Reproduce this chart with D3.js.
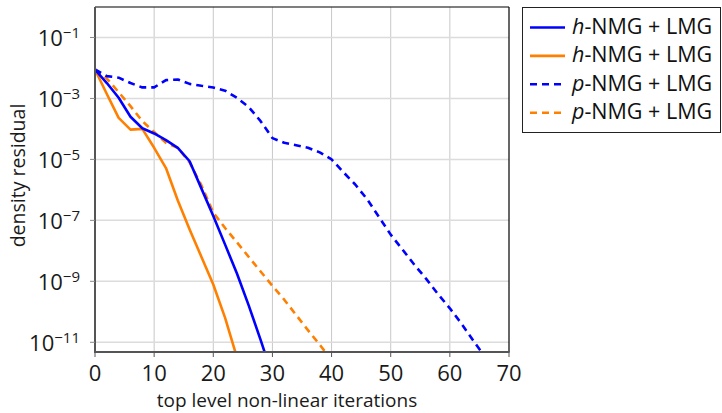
<!DOCTYPE html>
<html>
<head>
<meta charset="utf-8">
<script src="https://cdn.jsdelivr.net/npm/d3@7/dist/d3.min.js"></script>
<style>
	body { margin: 0; background: #fff; }
	svg { display: block; font-family: "Open Sans", sans-serif; }
</style>
</head>
<body>
<svg id="chart" width="722" height="413"></svg>
<script>

// iterations and density residuals
var hItersA = [0, 2, 4, 6, 8, 10, 12, 14, 16, 18, 20, 22, 24, 26, 28, 30];
var hResA = [8.9e-3, 3.2e-3, 1.05e-3, 2.5e-4, 1.05e-4, 7.1e-5, 4.3e-5, 2.4e-5, 8.7e-6, 1.1e-6, 1.4e-7, 1.6e-8, 1.8e-9, 1.6e-10, 1.2e-11, 8e-13];

var hItersB = [0, 2, 4, 6, 8, 10, 12, 14, 16, 18, 20, 22, 24];
var hResB = [8.9e-3, 1.4e-3, 2.3e-4, 9.5e-5, 1.0e-4, 2.4e-5, 5.2e-6, 4.5e-7, 5.0e-8, 6.3e-9, 7.9e-10, 6.3e-11, 3.2e-12];

var pItersA = [0, 2, 4, 6, 8, 10, 12, 14, 16, 18, 20, 22, 24, 26, 28, 30, 32, 34, 36, 38, 40, 42, 44, 46, 48, 50, 52, 54, 56, 58, 60, 62, 64, 66];
var pResA = [8.9e-3, 5.4e-3, 4.8e-3, 3.2e-3, 2.3e-3, 2.3e-3, 4.0e-3, 4.2e-3, 3.0e-3, 2.6e-3, 2.3e-3, 1.8e-3, 1.05e-3, 5.2e-4, 1.8e-4, 5.0e-5, 3.5e-5, 2.9e-5, 2.4e-5, 1.7e-5, 1.0e-5, 3.8e-6, 1.5e-6, 5.0e-7, 1.3e-7, 3.4e-8, 1.1e-8, 3.5e-9, 1.2e-9, 3.8e-10, 1.3e-10, 4.0e-11, 1.1e-11, 3.2e-12];

var pItersB = [0, 2, 4, 6, 8, 10, 12, 14, 16, 18, 20, 22, 24, 26, 28, 30, 32, 34, 36, 38, 40];
var pResB = [8.9e-3, 4.5e-3, 1.6e-3, 5.6e-4, 1.8e-4, 7.9e-5, 3.5e-5, 2.4e-5, 7.9e-6, 1.4e-6, 1.8e-7, 5.6e-8, 1.9e-8, 6.3e-9, 2.1e-9, 7.1e-10, 2.5e-10, 7.9e-11, 2.5e-11, 8.3e-12, 2.6e-12];

var xTicks = [0, 10, 20, 30, 40, 50, 60, 70];
var yTicks = [1e-1, 1e-3, 1e-5, 1e-7, 1e-9, 1e-11];
var yTickExp = ["\u22121", "\u22123", "\u22125", "\u22127", "\u22129", "\u221211"];

var seriesNames = ["h", "h", "p", "p"];
var seriesColors = ["#0000ff", "#ff8000", "#0000ff", "#ff8000"];
var seriesDashed = [false, false, true, true];


(function()
{
	var svg = d3.select("#chart");

	var pLeft = 95, pRight = 509, pTop = 7, pBottom = 352;

	var x = d3.scaleLinear().domain([0, 70]).range([pLeft, pRight]);
	var y = d3.scaleLog().domain([4.8e-12, 1]).range([pBottom, pTop]);

	svg.append("rect").attr("width", 722).attr("height", 413).attr("fill", "#fff");

	// grid
	var grid = svg.append("g");
	grid.selectAll(".vg").data(xTicks.slice(1, -1)).enter().append("line")
		.attr("x1", function(d) { return x(d); })
		.attr("x2", function(d) { return x(d); })
		.attr("y1", pTop).attr("y2", pBottom)
		.attr("stroke", "#c8c8c8").attr("stroke-width", 1);

	grid.selectAll(".hg").data(yTicks).enter().append("line")
		.attr("x1", pLeft).attr("x2", pRight)
		.attr("y1", function(d) { return y(d); })
		.attr("y2", function(d) { return y(d); })
		.attr("stroke", "#dcdcdc").attr("stroke-width", 1.5);

	// curves, clipped to the plot area
	svg.append("clipPath").attr("id", "plotClip")
		.append("rect").attr("x", pLeft).attr("y", pTop)
		.attr("width", pRight - pLeft).attr("height", pBottom - pTop);

	var line = d3.line()
		.x(function(d) { return x(d[0]); })
		.y(function(d) { return y(d[1]); });

	var allSeries = [
		d3.zip(hItersA, hResA),
		d3.zip(hItersB, hResB),
		d3.zip(pItersA, pResA),
		d3.zip(pItersB, pResB)
	];

	var curves = svg.append("g").attr("clip-path", "url(#plotClip)");
	for (var i = allSeries.length - 1; i >= 0; i--)
	{
		curves.append("path")
			.attr("d", line(allSeries[i]))
			.attr("fill", "none")
			.attr("stroke", seriesColors[i])
			.attr("stroke-width", 2.6)
			.attr("stroke-linejoin", "round")
			.attr("stroke-dasharray", seriesDashed[i] ? "7,5" : null);
	}

	// frame
	svg.append("line").attr("x1", pLeft).attr("x2", pRight).attr("y1", pTop).attr("y2", pTop)
		.attr("stroke", "#000").attr("stroke-width", 1.2);
	svg.append("line").attr("x1", pRight).attr("x2", pRight).attr("y1", pTop).attr("y2", pBottom)
		.attr("stroke", "#000").attr("stroke-width", 1.2);
	svg.append("line").attr("x1", pLeft).attr("x2", pLeft).attr("y1", pTop).attr("y2", pBottom)
		.attr("stroke", "#555").attr("stroke-width", 2);
	svg.append("line").attr("x1", pLeft - 1).attr("x2", pRight + 0.6).attr("y1", pBottom).attr("y2", pBottom)
		.attr("stroke", "#555").attr("stroke-width", 2);

	// ticks
	svg.selectAll(".xt").data(xTicks).enter().append("line")
		.attr("x1", function(d) { return x(d); })
		.attr("x2", function(d) { return x(d); })
		.attr("y1", pBottom).attr("y2", pBottom + 5)
		.attr("stroke", "#555").attr("stroke-width", 1);

	svg.selectAll(".yt").data(yTicks).enter().append("line")
		.attr("x1", pLeft - 5).attr("x2", pLeft)
		.attr("y1", function(d) { return y(d); })
		.attr("y2", function(d) { return y(d); })
		.attr("stroke", "#888").attr("stroke-width", 1);

	svg.selectAll(".xl").data(xTicks).enter().append("text")
		.attr("x", function(d) { return x(d); })
		.attr("y", 381)
		.attr("text-anchor", "middle")
		.attr("font-size", 22)
		.attr("fill", "#1a1a1a")
		.text(function(d) { return d; });

	var yLabels = svg.selectAll(".yl").data(yTicks).enter().append("text")
		.attr("x", 80)
		.attr("y", function(d) { return y(d) + 9; })
		.attr("text-anchor", "end")
		.attr("font-size", 22)
		.attr("fill", "#1a1a1a");
	yLabels.append("tspan").text("10");
	yLabels.append("tspan")
		.attr("dy", -8)
		.attr("font-size", 15)
		.text(function(d, i) { return yTickExp[i]; });

	// axis titles
	svg.append("text")
		.attr("x", 287)
		.attr("y", 407)
		.attr("text-anchor", "middle")
		.attr("font-size", 19)
		.attr("fill", "#1a1a1a")
		.text("top level non-linear iterations");

	svg.append("text")
		.attr("transform", "translate(25,175.5) rotate(-90)")
		.attr("text-anchor", "middle")
		.attr("font-size", 19.5)
		.attr("fill", "#1a1a1a")
		.text("density residual");

	// legend
	var legend = svg.append("g");
	legend.append("rect")
		.attr("x", 522.5).attr("y", 7.5)
		.attr("width", 198).attr("height", 125)
		.attr("fill", "#fff").attr("stroke", "#222").attr("stroke-width", 1);

	for (var k = 0; k < seriesNames.length; k++)
	{
		var ly = 27.5 + k * 28.4;
		legend.append("line")
			.attr("x1", 530).attr("x2", 565)
			.attr("y1", ly).attr("y2", ly)
			.attr("stroke", seriesColors[k])
			.attr("stroke-width", 2.6)
			.attr("stroke-dasharray", seriesDashed[k] ? "7,5" : null);

		var lt = legend.append("text")
			.attr("x", 572).attr("y", ly + 6.5)
			.attr("font-size", 21.5)
			.attr("fill", "#111");
		lt.append("tspan").attr("font-style", "italic").text(seriesNames[k]);
		lt.append("tspan").text("-NMG + LMG");
	}
})();

</script>
</body>
</html>
